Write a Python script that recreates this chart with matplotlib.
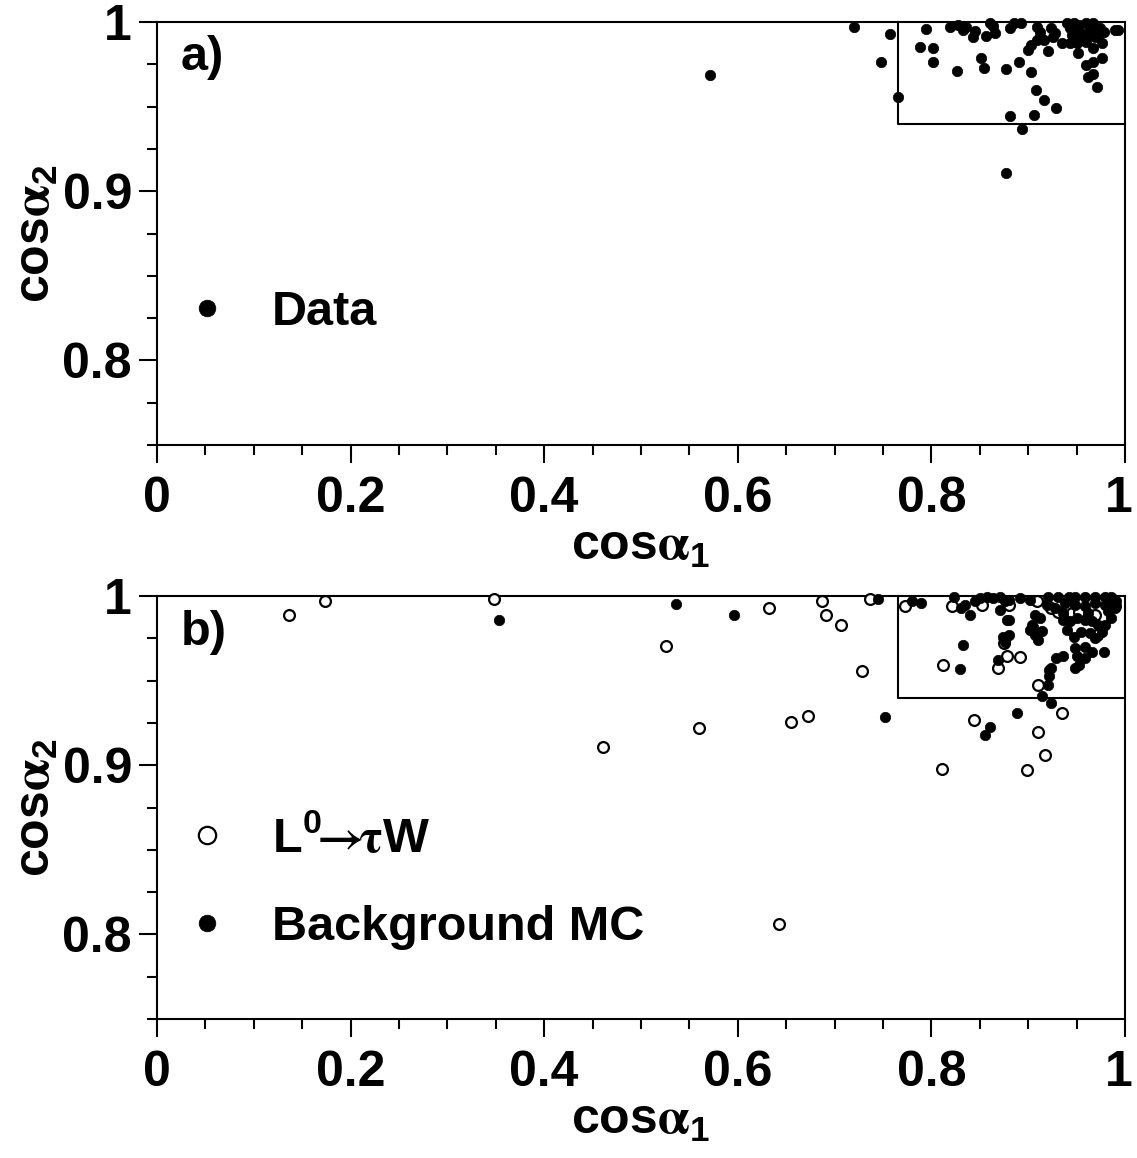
import matplotlib
matplotlib.use("Agg")
import matplotlib.pyplot as plt
import matplotlib.transforms as mtransforms
from matplotlib.ticker import MultipleLocator

plt.rcParams["font.family"] = ["Liberation Sans", "DejaVu Sans"]
plt.rcParams["font.weight"] = "bold"
plt.rcParams["mathtext.fontset"] = "custom"
plt.rcParams["mathtext.rm"] = "Liberation Sans"
plt.rcParams["mathtext.it"] = "Liberation Sans"
plt.rcParams["mathtext.bf"] = "Liberation Sans:bold"
plt.rcParams["mathtext.sf"] = "STIXGeneral"
plt.rcParams["mathtext.default"] = "regular"

# selection box (cut values)
cut_x = 0.766
cut_y = 0.94

# panel a) data
x_data = [0.571, 0.720, 0.757, 0.748, 0.766, 0.794, 0.788, 0.802, 0.802, 0.826,
          0.851, 0.854, 0.877, 0.891, 0.903, 0.908, 0.916, 0.929, 0.881, 0.906,
          0.894, 0.877, 0.971, 0.962, 0.967, 0.960, 0.967, 0.976, 0.967, 0.976,
          0.952, 0.921, 0.900, 0.903, 0.909, 0.912, 0.916, 0.926, 0.935, 0.943,
          0.819, 0.828, 0.836, 0.833, 0.845, 0.843, 0.856, 0.866, 0.861, 0.864,
          0.881, 0.885, 0.893, 0.909, 0.912, 0.924, 0.928, 0.940, 0.947, 0.953,
          0.960, 0.967, 0.974, 0.978, 0.948, 0.955, 0.962, 0.969, 0.953, 0.945,
          0.950, 0.960, 0.972, 0.990, 0.993, 0.943, 0.964, 0.971]
y_data = [0.9687, 0.997, 0.9927, 0.9766, 0.9556, 0.9957, 0.985, 0.9845, 0.9766, 0.9713,
          0.9786, 0.9727, 0.972, 0.9766, 0.9707, 0.960, 0.954, 0.9494, 0.9445, 0.9453,
          0.9369, 0.9107, 0.9618, 0.9677, 0.9691, 0.9746, 0.9766, 0.9786, 0.9845, 0.9874,
          0.9815, 0.983, 0.9835, 0.9864, 0.9894, 0.9913, 0.9894, 0.9913, 0.9874, 0.9874,
          0.9972, 0.9982, 0.9972, 0.9953, 0.9949, 0.991, 0.9917, 0.9937, 0.9995, 0.9976,
          0.9963, 0.9992, 0.9992, 0.9972, 0.9943, 0.9963, 0.9933, 0.9995, 0.9992, 0.9982,
          0.9992, 0.9992, 0.9963, 0.9943, 0.9953, 0.9933, 0.9923, 0.9913, 0.9894, 0.9923,
          0.9874, 0.9884, 0.9923, 0.9953, 0.9953, 0.9963, 0.9963, 0.9953]

# panel b) signal MC (open)
x_sig = [0.136, 0.174, 0.348, 0.461, 0.526, 0.560, 0.632, 0.643, 0.655, 0.673,
         0.687, 0.691, 0.707, 0.728, 0.737, 0.773, 0.811, 0.812, 0.821, 0.844,
         0.852, 0.869, 0.878, 0.892, 0.909, 0.910, 0.910, 0.917, 0.899, 0.935,
         0.924, 0.945, 0.969, 0.960, 0.971, 0.988, 0.990, 0.875, 0.880, 0.931,
         0.953]
y_sig = [0.9888, 0.9972, 0.9982, 0.9108, 0.9706, 0.9219, 0.9927, 0.806, 0.9256, 0.929,
         0.9972, 0.9888, 0.9828, 0.9558, 0.9982, 0.9939, 0.898, 0.9594, 0.9939, 0.9266,
         0.9949, 0.9574, 0.9643, 0.9637, 0.9968, 0.9475, 0.9197, 0.906, 0.897, 0.9306,
         0.9929, 0.990, 0.989, 0.9868, 0.9769, 0.9976, 0.9939, 0.972, 0.9947, 0.9907,
         0.9907]

# panel b) background MC (filled)
x_bkg = [0.353, 0.536, 0.596, 0.745, 0.752, 0.780, 0.789, 0.823, 0.831, 0.840,
         0.835, 0.845, 0.850, 0.857, 0.864, 0.871, 0.876, 0.871, 0.878, 0.874,
         0.876, 0.833, 0.830, 0.869, 0.880, 0.892, 0.902, 0.880, 0.880, 0.902,
         0.907, 0.914, 0.910, 0.904, 0.907, 0.912, 0.929, 0.936, 0.924, 0.922,
         0.921, 0.914, 0.924, 0.888, 0.861, 0.855,
         0.921, 0.931, 0.942, 0.948, 0.959, 0.969, 0.979, 0.986, 0.991,
         0.919, 0.928, 0.938, 0.948, 0.959, 0.969, 0.979, 0.988,
         0.936, 0.943, 0.950, 0.959, 0.966, 0.972, 0.936, 0.962,
         0.940, 0.947, 0.955, 0.964, 0.969, 0.948, 0.959, 0.966, 0.950, 0.959,
         0.953, 0.948, 0.978, 0.983, 0.986, 0.979, 0.976, 0.990, 0.922, 0.905]
y_bkg = [0.9858, 0.9953, 0.9888, 0.9982, 0.9286, 0.9968, 0.9959, 0.9995, 0.9929, 0.989,
         0.9949, 0.9968, 0.9988, 0.9995, 0.9988, 0.9995, 0.9968, 0.9919, 0.986, 0.976,
         0.973, 0.9708, 0.957, 0.9623, 0.9978, 0.9988, 0.9978, 0.986, 0.977, 0.980,
         0.9771, 0.9791, 0.9741, 0.983, 0.989, 0.987, 0.9633, 0.9643, 0.9574, 0.953,
         0.9472, 0.9407, 0.9367, 0.9306, 0.9227, 0.9178,
         0.9995, 0.9995, 0.9995, 0.9995, 0.9995, 0.9995, 0.9995, 0.9995, 0.9968,
         0.9949, 0.9929, 0.9959, 0.9949, 0.9939, 0.9959, 0.9949, 0.9939,
         0.986, 0.985, 0.987, 0.986, 0.985, 0.983, 0.990, 0.990,
         0.980, 0.976, 0.979, 0.978, 0.975, 0.969, 0.970, 0.967, 0.9643, 0.9633,
         0.9594, 0.9574, 0.967, 0.991, 0.987, 0.983, 0.979, 0.9929, 0.956, 0.9818]

x_ticks = [0, 0.2, 0.4, 0.6, 0.8, 1]
x_ticklabels = ["0", "0.2", "0.4", "0.6", "0.8", "1"]
y_ticks = [0.8, 0.9, 1]
y_ticklabels = ["0.8", "0.9", "1"]

fig = plt.figure(figsize=(11.37, 11.58), dpi=100)
ax1 = fig.add_axes([0.138, 0.6157, 0.8514, 0.3653])
ax2 = fig.add_axes([0.138, 0.1200, 0.8514, 0.3653])

for ax in (ax1, ax2):
    ax.set_xlim(0, 1)
    ax.set_ylim(0.75, 1)
    ax.set_xticks(x_ticks)
    ax.set_xticklabels(x_ticklabels)
    ax.set_yticks(y_ticks)
    ax.set_yticklabels(y_ticklabels)
    ax.xaxis.set_minor_locator(MultipleLocator(0.05))
    ax.yaxis.set_minor_locator(MultipleLocator(0.025))
    ax.tick_params(which="both", direction="out", width=1.5, top=False, right=False)
    ax.tick_params(which="major", length=13, labelsize=36)
    ax.tick_params(axis="x", which="major", pad=9)
    ax.tick_params(axis="y", which="major", pad=5)
    ax.tick_params(which="minor", length=7)
    for s in ax.spines.values():
        s.set_linewidth(1.5)
    # keep the last "1" inside the figure
    last = ax.get_xticklabels()[-1]
    last.set_transform(last.get_transform() +
                       mtransforms.ScaledTranslation(-6 / 100, 0, fig.dpi_scale_trans))
    # selection box
    ax.plot([cut_x, cut_x, 1], [1, cut_y, cut_y], color="black", lw=1.5, clip_on=False)
    ax.set_xlabel(r"cos$\mathsf{\alpha}_{\mathbf{1}}$", fontsize=36, fontweight="bold", labelpad=2)
    ax.set_ylabel(r"cos$\mathsf{\alpha}_{\mathbf{2}}$", fontsize=36, fontweight="bold", labelpad=2)

# a) data
ax1.plot(x_data, y_data, "o", color="black", ms=7.5, mew=0.5, clip_on=False, zorder=3, label="Data")
ax1.text(0.025, 0.915, "a)", transform=ax1.transAxes, fontsize=35, fontweight="bold", va="center")
ax1.legend(loc="center left", bbox_to_anchor=(0.028, 0.313), frameon=False, fontsize=35,
           markerscale=1.6, handlelength=0.95, handletextpad=0.85, borderpad=0, borderaxespad=0)

# b) MC
ax2.plot(x_sig, y_sig, "o", mfc="white", mec="black", ms=7.8, mew=1.6, clip_on=False, zorder=3,
         label=r"L$^{\mathbf{0}}\!\!\mathsf{\rightarrow}\!\!\mathsf{\tau}$W")
ax2.plot(x_bkg, y_bkg, "o", color="black", ms=7.5, mew=0.5, clip_on=False, zorder=4,
         label="Background MC")
ax2.text(0.025, 0.913, "b)", transform=ax2.transAxes, fontsize=35, fontweight="bold", va="center")
ax2.legend(loc="center left", bbox_to_anchor=(0.028, 0.323), frameon=False, fontsize=35,
           markerscale=1.6, handlelength=0.95, handletextpad=0.85, borderpad=0, borderaxespad=0,
           labelspacing=0.9)

fig.savefig("out.png", dpi=100)
